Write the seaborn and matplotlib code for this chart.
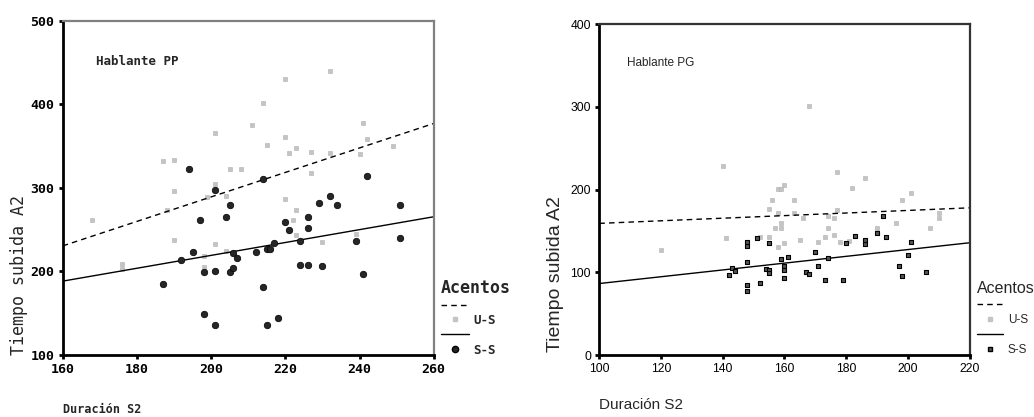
import numpy as np
import pandas as pd
import seaborn as sns
import matplotlib
matplotlib.use('Agg')
import matplotlib.pyplot as plt
from matplotlib.lines import Line2D

# Hablante PP
pp_us_dur = [168, 176, 176, 187, 188, 190, 190, 190, 198, 198, 199, 201, 201, 201, 204, 204, 205, 208, 211, 214,
             215, 220, 220, 220, 221, 222, 223, 223, 223, 227, 227, 230, 232, 232, 239, 240, 241, 242, 249]
pp_us_tiempo = [261, 209, 203, 332, 273, 333, 296, 238, 219, 205, 289, 366, 305, 233, 290, 224, 322, 322, 375, 402,
                351, 430, 361, 287, 342, 262, 348, 273, 243, 343, 318, 235, 440, 342, 245, 340, 378, 358, 350]
pp_ss_dur = [187, 192, 194, 195, 197, 198, 198, 201, 201, 201, 204, 205, 205, 206, 206, 207, 212, 214, 214, 215,
             215, 216, 217, 218, 220, 221, 224, 224, 226, 226, 226, 229, 230, 232, 234, 239, 241, 242, 251, 251]
pp_ss_tiempo = [185, 214, 323, 223, 261, 199, 149, 297, 200, 136, 265, 279, 199, 222, 204, 216, 223, 310, 181, 227,
                136, 227, 234, 144, 259, 250, 236, 208, 265, 252, 208, 282, 206, 290, 280, 236, 197, 314, 279, 240]

# Hablante PG
pg_us_dur = [120, 140, 141, 152, 155, 155, 156, 157, 158, 158, 158, 159, 159, 159, 160, 160, 163, 163, 165, 166,
             168, 171, 173, 174, 174, 176, 176, 177, 177, 178, 181, 182, 186, 190, 196, 198, 201, 207, 210, 210]
pg_us_tiempo = [127, 228, 141, 142, 177, 142, 187, 153, 201, 172, 131, 201, 160, 153, 206, 135, 187, 171, 139, 166,
                301, 136, 142, 168, 153, 165, 145, 221, 175, 136, 138, 202, 214, 154, 159, 187, 196, 153, 172, 166]
pg_ss_dur = [142, 143, 144, 148, 148, 148, 148, 148, 151, 152, 154, 155, 155, 155, 159, 160, 160, 160, 161, 167,
             168, 170, 171, 173, 174, 179, 180, 183, 186, 186, 190, 192, 193, 197, 198, 200, 201, 206]
pg_ss_tiempo = [97, 105, 101, 137, 132, 112, 84, 77, 141, 87, 104, 135, 103, 99, 116, 107, 103, 93, 118, 100,
                98, 125, 108, 91, 117, 91, 135, 144, 139, 134, 148, 168, 143, 107, 95, 121, 137, 100]

acentos = ['U-S', 'S-S']

sns.set_style('ticks')
mono = 'DejaVu Sans Mono'
arial = 'Liberation Sans'

fig = plt.figure(figsize=(10.34, 4.17), dpi=100)
ax1 = fig.add_axes([62.7 / 1034, 1 - 355 / 417, 371 / 1034, 334.3 / 417])
ax2 = fig.add_axes([599.3 / 1034, 1 - 355 / 417, 370.4 / 1034, 331 / 417])

gris = '#c4c4c4'


def panel(ax, us_x, us_y, ss_x, ss_y, xlim, ylim, xticks, yticks, ss_marker, ss_size, ss_face, ss_lw):
    ax.set_xlim(xlim)
    ax.set_ylim(ylim)
    us = pd.DataFrame({'dur': us_x, 'tiempo': us_y})
    ss = pd.DataFrame({'dur': ss_x, 'tiempo': ss_y})
    sns.scatterplot(data=us, x='dur', y='tiempo', ax=ax, marker='s', s=7, color=gris,
                    edgecolor='#b0b0b0', linewidth=0.4, legend=False, zorder=2)
    sns.scatterplot(data=ss, x='dur', y='tiempo', ax=ax, marker=ss_marker, s=ss_size, color=ss_face,
                    edgecolor='black', linewidth=ss_lw, legend=False, zorder=3)
    sns.regplot(data=us, x='dur', y='tiempo', ax=ax, scatter=False, ci=None, truncate=False,
                line_kws=dict(color='black', linestyle=(0, (4, 3)), linewidth=1))
    sns.regplot(data=ss, x='dur', y='tiempo', ax=ax, scatter=False, ci=None, truncate=False,
                line_kws=dict(color='black', linestyle='-', linewidth=1))
    ax.set_xlim(xlim)
    ax.set_ylim(ylim)
    ax.set_xticks(xticks)
    ax.set_yticks(yticks)
    ax.set_xlabel('')
    ax.set_ylabel('')
    ax.tick_params(direction='out', length=3, width=2, pad=3, colors='black')


panel(ax1, pp_us_dur, pp_us_tiempo, pp_ss_dur, pp_ss_tiempo, (160, 260), (100, 500),
      [160, 180, 200, 220, 240, 260], [100, 200, 300, 400, 500], 'o', 22, '#262626', 0.5)
panel(ax2, pg_us_dur, pg_us_tiempo, pg_ss_dur, pg_ss_tiempo, (100, 220), (0, 400),
      [100, 120, 140, 160, 180, 200, 220], [0, 100, 200, 300, 400], 's', 11, '#555555', 0.8)

# spines
for ax, topcol in [(ax1, '#808080'), (ax2, '#333333')]:
    ax.spines['left'].set_linewidth(2)
    ax.spines['bottom'].set_linewidth(2)
    ax.spines['left'].set_color('black')
    ax.spines['bottom'].set_color('black')
    ax.spines['top'].set_visible(True)
    ax.spines['right'].set_visible(True)
    ax.spines['top'].set_color(topcol)
    ax.spines['right'].set_color(topcol)
    ax.spines['top'].set_linewidth(1.6)
    ax.spines['right'].set_linewidth(1.6)

for lbl in ax1.get_xticklabels() + ax1.get_yticklabels():
    lbl.set_fontfamily(mono)
    lbl.set_fontweight('bold')
    lbl.set_fontsize(9.5)
for lbl in ax2.get_xticklabels() + ax2.get_yticklabels():
    lbl.set_fontfamily(arial)
    lbl.set_fontsize(8.7)

# textos
ax1.text(0.09, 0.877, 'Hablante PP', transform=ax1.transAxes, family=mono, weight='bold',
         fontsize=9, va='center', ha='left')
ax2.text(0.075, 0.881, 'Hablante PG', transform=ax2.transAxes, family=arial,
         fontsize=8.5, va='center', ha='left')

fig.text(63 / 1034, 1 - 409.5 / 417, 'Duración S2', family=mono, weight='bold', fontsize=8.5,
         va='center', ha='left')
fig.text(599 / 1034, 1 - 405 / 417, 'Duración S2', family=arial, fontsize=11,
         va='center', ha='left')
fig.text(19 / 1034, 1 - 355 / 417, 'Tiempo subida A2', family=mono, fontsize=12,
         rotation=90, va='bottom', ha='center')
fig.text(555 / 1034, 1 - 352 / 417, 'Tiempo subida A2', family=arial, fontsize=14,
         rotation=90, va='bottom', ha='center')

# leyendas
def leyenda(ax, x, y, ss_marker, ss_ms, ss_face, fam, weight, fs, tfs, sp):
    handles = [Line2D([], [], color='black', linestyle=(0, (4, 3)), linewidth=1),
               Line2D([], [], marker='s', markersize=3, color=gris, linestyle='none'),
               Line2D([], [], color='black', linewidth=1),
               Line2D([], [], marker=ss_marker, markersize=ss_ms, markerfacecolor=ss_face,
                      markeredgecolor='black', linestyle='none')]
    labels = [' ', acentos[0], ' ', acentos[1]]
    leg = ax.legend(handles, labels, title='Acentos', loc='upper left',
                    bbox_to_anchor=(x / 1034, 1 - y / 417), bbox_transform=fig.transFigure,
                    frameon=False, borderpad=0, borderaxespad=0, handlelength=2.2,
                    handletextpad=0.4, labelspacing=sp,
                    prop=dict(family=fam, weight=weight, size=fs),
                    title_fontproperties=dict(family=fam, weight=weight, size=tfs),
                    alignment='left')
    return leg

leyenda(ax1, 441, 279, 'o', 4.5, '#262626', mono, 'bold', 9, 12, 0.15)
leyenda(ax2, 977, 281, 's', 3.5, '#555555', arial, 'normal', 8.5, 11.5, 0.25)

fig.savefig('out.png', dpi=100)
